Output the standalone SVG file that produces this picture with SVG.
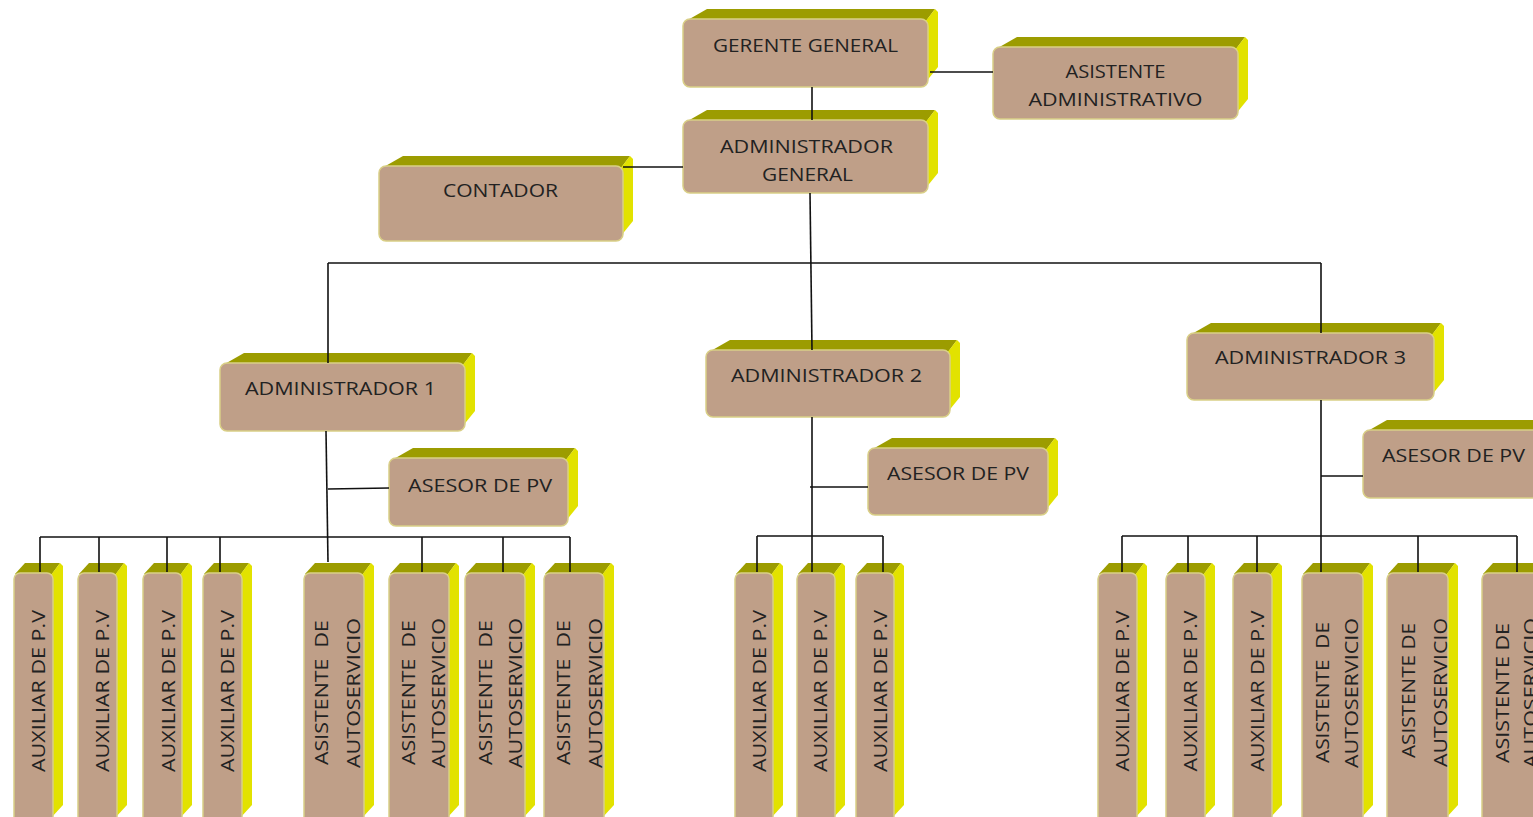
<svg xmlns="http://www.w3.org/2000/svg" width="1533" height="817" viewBox="0 0 1533 817">
<style>
.bg{fill:#ffffff}
.top{fill:#9c9c00}
.side{fill:#e2e200}
.front{fill:#bf9f88;stroke:#d9cf86;stroke-width:1.5}
.t{font-family:"Open Sans","Liberation Sans",Arial,sans-serif;font-size:19px;fill:#222222;text-anchor:middle}
.c{fill:none;stroke:#111111;stroke-width:1.6}
</style>
<rect class="bg" x="0" y="0" width="1533" height="817"/>

<g id="gerente-general">
<polygon class="top" points="686,21 707,9 935,9 926,21"/>
<polygon class="side" points="925,22 935,9 938,12 938,67 925,83"/>
<rect class="front" x="683" y="19" width="245" height="68" rx="7"/>
<text class="t" x="805.5" y="52" textLength="185" lengthAdjust="spacingAndGlyphs">GERENTE GENERAL</text>
</g>

<g id="asistente-administrativo">
<polygon class="top" points="996,49 1017,37 1245,37 1236,49"/>
<polygon class="side" points="1235,50 1245,37 1248,40 1248,99 1235,115"/>
<rect class="front" x="993" y="47" width="245" height="72" rx="7"/>
<text class="t" x="1115.5" y="78" textLength="100" lengthAdjust="spacingAndGlyphs">ASISTENTE</text>
<text class="t" x="1115.5" y="106" textLength="174" lengthAdjust="spacingAndGlyphs">ADMINISTRATIVO</text>
</g>

<g id="administrador-general">
<polygon class="top" points="686,122 707,110 935,110 926,122"/>
<polygon class="side" points="925,123 935,110 938,113 938,173 925,189"/>
<rect class="front" x="683" y="120" width="245" height="73" rx="7"/>
<text class="t" x="806.5" y="152.5" textLength="173" lengthAdjust="spacingAndGlyphs">ADMINISTRADOR</text>
<text class="t" x="807.5" y="180.5" textLength="91" lengthAdjust="spacingAndGlyphs">GENERAL</text>
</g>

<g id="contador">
<polygon class="top" points="382,168 403,156 630,156 621,168"/>
<polygon class="side" points="620,169 630,156 633,159 633,221 620,237"/>
<rect class="front" x="379" y="166" width="244" height="75" rx="7"/>
<text class="t" x="500.5" y="197" textLength="115" lengthAdjust="spacingAndGlyphs">CONTADOR</text>
</g>

<g id="administrador-1">
<polygon class="top" points="223,365 244,353 472,353 463,365"/>
<polygon class="side" points="462,366 472,353 475,356 475,411 462,427"/>
<rect class="front" x="220" y="363" width="245" height="68" rx="7"/>
<text class="t" x="340.5" y="395" textLength="191" lengthAdjust="spacingAndGlyphs">ADMINISTRADOR 1</text>
</g>

<g id="asesor-1">
<polygon class="top" points="392,460 413,448 575,448 566,460"/>
<polygon class="side" points="565,461 575,448 578,451 578,506 565,522"/>
<rect class="front" x="389" y="458" width="179" height="68" rx="7"/>
<text class="t" x="480" y="492" textLength="144" lengthAdjust="spacingAndGlyphs">ASESOR DE PV</text>
</g>

<g id="administrador-2">
<polygon class="top" points="709,352 730,340 957,340 948,352"/>
<polygon class="side" points="947,353 957,340 960,343 960,397 947,413"/>
<rect class="front" x="706" y="350" width="244" height="67" rx="7"/>
<text class="t" x="826.5" y="382" textLength="191" lengthAdjust="spacingAndGlyphs">ADMINISTRADOR 2</text>
</g>

<g id="asesor-2">
<polygon class="top" points="871,450 892,438 1055,438 1046,450"/>
<polygon class="side" points="1045,451 1055,438 1058,441 1058,495 1045,511"/>
<rect class="front" x="868" y="448" width="180" height="67" rx="7"/>
<text class="t" x="958" y="480" textLength="142" lengthAdjust="spacingAndGlyphs">ASESOR DE PV</text>
</g>

<g id="administrador-3">
<polygon class="top" points="1190,335 1211,323 1441,323 1432,335"/>
<polygon class="side" points="1431,336 1441,323 1444,326 1444,380 1431,396"/>
<rect class="front" x="1187" y="333" width="247" height="67" rx="7"/>
<text class="t" x="1310.5" y="364" textLength="191" lengthAdjust="spacingAndGlyphs">ADMINISTRADOR 3</text>
</g>

<g id="asesor-3">
<polygon class="top" points="1366,432 1387,420 1550,420 1541,432"/>
<polygon class="side" points="1540,433 1550,420 1553,423 1553,478 1540,494"/>
<rect class="front" x="1363" y="430" width="180" height="68" rx="7"/>
<text class="t" x="1453.5" y="462" textLength="143" lengthAdjust="spacingAndGlyphs">ASESOR DE PV</text>
</g>

<!-- Left group -->
<g id="aux-l1">
<polygon class="top" points="15,574 25,563 60,563 52,574"/>
<polygon class="side" points="51,575 60,563 63,566 63,805 51,818"/>
<rect class="front" x="14" y="573" width="39" height="250" rx="6"/>
<text class="t" transform="translate(45,691) rotate(-90)" textLength="162" lengthAdjust="spacingAndGlyphs">AUXILIAR DE P.V</text>
</g>
<g id="aux-l2">
<polygon class="top" points="79,574 89,563 124,563 116,574"/>
<polygon class="side" points="115,575 124,563 127,566 127,805 115,818"/>
<rect class="front" x="78" y="573" width="39" height="250" rx="6"/>
<text class="t" transform="translate(108.5,691) rotate(-90)" textLength="162" lengthAdjust="spacingAndGlyphs">AUXILIAR DE P.V</text>
</g>
<g id="aux-l3">
<polygon class="top" points="144,574 154,563 189,563 181,574"/>
<polygon class="side" points="180,575 189,563 192,566 192,805 180,818"/>
<rect class="front" x="143" y="573" width="39" height="250" rx="6"/>
<text class="t" transform="translate(174.5,691) rotate(-90)" textLength="162" lengthAdjust="spacingAndGlyphs">AUXILIAR DE P.V</text>
</g>
<g id="aux-l4">
<polygon class="top" points="204,574 214,563 249,563 241,574"/>
<polygon class="side" points="240,575 249,563 252,566 252,805 240,818"/>
<rect class="front" x="203" y="573" width="39" height="250" rx="6"/>
<text class="t" transform="translate(233.5,691) rotate(-90)" textLength="162" lengthAdjust="spacingAndGlyphs">AUXILIAR DE P.V</text>
</g>
<g id="asis-l5">
<polygon class="top" points="305,574 315,563 371,563 363,574"/>
<polygon class="side" points="362,575 371,563 374,566 374,805 362,818"/>
<rect class="front" x="304" y="573" width="60" height="250" rx="6"/>
<text class="t" xml:space="preserve" transform="translate(328,692.5) rotate(-90)" textLength="145" lengthAdjust="spacingAndGlyphs">ASISTENTE  DE</text>
<text class="t" transform="translate(360,693) rotate(-90)" textLength="150" lengthAdjust="spacingAndGlyphs">AUTOSERVICIO</text>
</g>
<g id="asis-l6">
<polygon class="top" points="390,574 400,563 456,563 448,574"/>
<polygon class="side" points="447,575 456,563 459,566 459,805 447,818"/>
<rect class="front" x="389" y="573" width="60" height="250" rx="6"/>
<text class="t" xml:space="preserve" transform="translate(415,692.5) rotate(-90)" textLength="145" lengthAdjust="spacingAndGlyphs">ASISTENTE  DE</text>
<text class="t" transform="translate(445,693) rotate(-90)" textLength="150" lengthAdjust="spacingAndGlyphs">AUTOSERVICIO</text>
</g>
<g id="asis-l7">
<polygon class="top" points="466,574 476,563 532,563 524,574"/>
<polygon class="side" points="523,575 532,563 535,566 535,805 523,818"/>
<rect class="front" x="465" y="573" width="60" height="250" rx="6"/>
<text class="t" xml:space="preserve" transform="translate(492,692.5) rotate(-90)" textLength="145" lengthAdjust="spacingAndGlyphs">ASISTENTE  DE</text>
<text class="t" transform="translate(522,693) rotate(-90)" textLength="150" lengthAdjust="spacingAndGlyphs">AUTOSERVICIO</text>
</g>
<g id="asis-l8">
<polygon class="top" points="545,574 555,563 611,563 603,574"/>
<polygon class="side" points="602,575 611,563 614,566 614,805 602,818"/>
<rect class="front" x="544" y="573" width="60" height="250" rx="6"/>
<text class="t" xml:space="preserve" transform="translate(570,692.5) rotate(-90)" textLength="145" lengthAdjust="spacingAndGlyphs">ASISTENTE  DE</text>
<text class="t" transform="translate(602,693) rotate(-90)" textLength="150" lengthAdjust="spacingAndGlyphs">AUTOSERVICIO</text>
</g>

<!-- Middle group -->
<g id="aux-m1">
<polygon class="top" points="736,574 746,563 780,563 772,574"/>
<polygon class="side" points="771,575 780,563 783,566 783,805 771,818"/>
<rect class="front" x="735" y="573" width="38" height="250" rx="6"/>
<text class="t" transform="translate(766,691) rotate(-90)" textLength="162" lengthAdjust="spacingAndGlyphs">AUXILIAR DE P.V</text>
</g>
<g id="aux-m2">
<polygon class="top" points="798,574 808,563 842,563 834,574"/>
<polygon class="side" points="833,575 842,563 845,566 845,805 833,818"/>
<rect class="front" x="797" y="573" width="38" height="250" rx="6"/>
<text class="t" transform="translate(827,691) rotate(-90)" textLength="162" lengthAdjust="spacingAndGlyphs">AUXILIAR DE P.V</text>
</g>
<g id="aux-m3">
<polygon class="top" points="857,574 867,563 901,563 893,574"/>
<polygon class="side" points="892,575 901,563 904,566 904,805 892,818"/>
<rect class="front" x="856" y="573" width="38" height="250" rx="6"/>
<text class="t" transform="translate(887,691) rotate(-90)" textLength="162" lengthAdjust="spacingAndGlyphs">AUXILIAR DE P.V</text>
</g>

<!-- Right group -->
<g id="aux-r1">
<polygon class="top" points="1099,574 1109,563 1144,563 1136,574"/>
<polygon class="side" points="1135,575 1144,563 1147,566 1147,805 1135,818"/>
<rect class="front" x="1098" y="573" width="39" height="250" rx="6"/>
<text class="t" transform="translate(1129,691) rotate(-90)" textLength="161" lengthAdjust="spacingAndGlyphs">AUXILIAR DE P.V</text>
</g>
<g id="aux-r2">
<polygon class="top" points="1167,574 1177,563 1212,563 1204,574"/>
<polygon class="side" points="1203,575 1212,563 1215,566 1215,805 1203,818"/>
<rect class="front" x="1166" y="573" width="39" height="250" rx="6"/>
<text class="t" transform="translate(1196.5,691) rotate(-90)" textLength="161" lengthAdjust="spacingAndGlyphs">AUXILIAR DE P.V</text>
</g>
<g id="aux-r3">
<polygon class="top" points="1234,574 1244,563 1279,563 1271,574"/>
<polygon class="side" points="1270,575 1279,563 1282,566 1282,805 1270,818"/>
<rect class="front" x="1233" y="573" width="39" height="250" rx="6"/>
<text class="t" transform="translate(1264,691) rotate(-90)" textLength="161" lengthAdjust="spacingAndGlyphs">AUXILIAR DE P.V</text>
</g>
<g id="asis-r4">
<polygon class="top" points="1303,574 1313,563 1370,563 1362,574"/>
<polygon class="side" points="1361,575 1370,563 1373,566 1373,805 1361,818"/>
<rect class="front" x="1302" y="573" width="61" height="250" rx="6"/>
<text class="t" xml:space="preserve" transform="translate(1329,692.5) rotate(-90)" textLength="141" lengthAdjust="spacingAndGlyphs">ASISTENTE  DE</text>
<text class="t" transform="translate(1358,693) rotate(-90)" textLength="150" lengthAdjust="spacingAndGlyphs">AUTOSERVICIO</text>
</g>
<g id="asis-r5">
<polygon class="top" points="1388,574 1398,563 1455,563 1447,574"/>
<polygon class="side" points="1446,575 1455,563 1458,566 1458,805 1446,818"/>
<rect class="front" x="1387" y="573" width="61" height="250" rx="6"/>
<text class="t" transform="translate(1415,690.5) rotate(-90)" textLength="135" lengthAdjust="spacingAndGlyphs">ASISTENTE DE</text>
<text class="t" transform="translate(1447,692.5) rotate(-90)" textLength="149" lengthAdjust="spacingAndGlyphs">AUTOSERVICIO</text>
</g>
<g id="asis-r6">
<polygon class="top" points="1483,574 1493,563 1550,563 1542,574"/>
<polygon class="side" points="1541,575 1550,563 1553,566 1553,805 1541,818"/>
<rect class="front" x="1482" y="573" width="61" height="250" rx="6"/>
<text class="t" transform="translate(1509,693) rotate(-90)" textLength="140" lengthAdjust="spacingAndGlyphs">ASISTENTE DE</text>
<text class="t" transform="translate(1537,693) rotate(-90)" textLength="150" lengthAdjust="spacingAndGlyphs">AUTOSERVICIO</text>
</g>

<g id="connectors">
<path class="c" d="M812,87 V120"/>
<path class="c" d="M930,72 H993"/>
<path class="c" d="M623,167 H683"/>
<path class="c" d="M810,193 L812,350"/>
<path class="c" d="M328,263 H1321"/>
<path class="c" d="M328,263 V363"/>
<path class="c" d="M1321,263 V333"/>
<path class="c" d="M326,431 L328,562"/>
<path class="c" d="M328,489 L389,488"/>
<path class="c" d="M40,537 H570"/>
<path class="c" d="M40,537 V572 M99,537 V572 M167,537 V572 M220,537 V572 M422,537 V572 M503,537 V572 M570,537 V572"/>
<path class="c" d="M812,417 V572"/>
<path class="c" d="M810,487 H868"/>
<path class="c" d="M757,536 H883"/>
<path class="c" d="M757,536 V572 M883,536 V572"/>
<path class="c" d="M1321,400 V572"/>
<path class="c" d="M1321,476 H1363"/>
<path class="c" d="M1122,536 H1517"/>
<path class="c" d="M1122,536 V572 M1188,536 V572 M1257,536 V572 M1418,536 V572 M1517,536 V572"/>
</g>
</svg>
